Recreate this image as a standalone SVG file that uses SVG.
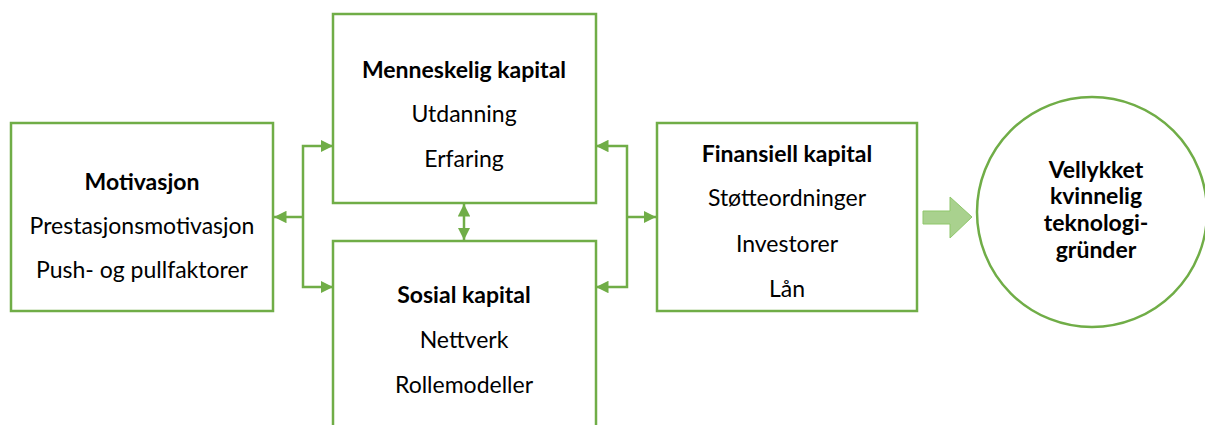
<svg xmlns="http://www.w3.org/2000/svg" width="1205" height="425" viewBox="0 0 1205 425">
<style>
.box{fill:#fff;stroke:#70ad47;stroke-width:2.5}
.t{font-family:Lato,"Open Sans",sans-serif;font-size:23px;fill:#000;text-anchor:middle}
.b{font-weight:bold}
.c{fill:none;stroke:#70ad47;stroke-width:2.5}
</style>
<defs>
<marker id="ah" viewBox="0 0 10 10" refX="10" refY="5" markerWidth="5" markerHeight="5" orient="auto-start-reverse" markerUnits="strokeWidth">
<path d="M0,0 L10,5 L0,10 z" fill="#70ad47"/>
</marker>
</defs>
<rect width="1205" height="425" fill="#fff"/>
<g id="motivasjon">
<rect class="box" x="11" y="123" width="262" height="188"/>
<text class="t b" x="142" y="190">Motivasjon</text>
<text class="t" x="142" y="234">Prestasjonsmotivasjon</text>
<text class="t" x="142" y="278">Push- og pullfaktorer</text>
</g>
<g id="menneskelig">
<rect class="box" x="333" y="14" width="263" height="189"/>
<text class="t b" x="464" y="78">Menneskelig kapital</text>
<text class="t" x="464" y="122">Utdanning</text>
<text class="t" x="464" y="167">Erfaring</text>
</g>
<g id="sosial">
<rect class="box" x="333" y="241" width="263" height="200"/>
<text class="t b" x="464" y="303">Sosial kapital</text>
<text class="t" x="464" y="348">Nettverk</text>
<text class="t" x="464" y="393">Rollemodeller</text>
</g>
<g id="finansiell">
<rect class="box" x="657" y="123" width="260" height="188"/>
<text class="t b" x="787" y="162">Finansiell kapital</text>
<text class="t" x="787" y="206">Støtteordninger</text>
<text class="t" x="787" y="252">Investorer</text>
<text class="t" x="787" y="297">Lån</text>
</g>
<g id="resultat">
<circle cx="1092" cy="212" r="115" fill="#fff" stroke="#70ad47" stroke-width="2.5"/>
<text class="t b" x="1096" y="178">Vellykket</text>
<text class="t b" x="1096" y="204">kvinnelig</text>
<text class="t b" x="1096" y="231">teknologi-</text>
<text class="t b" x="1096" y="258">gründer</text>
</g>
<g id="connectors">
<path class="c" d="M333,146 H303 V287 H333" marker-start="url(#ah)" marker-end="url(#ah)"/>
<path class="c" d="M303,217 H274" marker-end="url(#ah)"/>
<path class="c" d="M596,146 H627 V287 H596" marker-start="url(#ah)" marker-end="url(#ah)"/>
<path class="c" d="M627,217 H656" marker-end="url(#ah)"/>
<path class="c" d="M464,204 V240" marker-start="url(#ah)" marker-end="url(#ah)"/>
<path d="M923,211 H950 V197 L972,217 L950,238 V224 H923 Z" fill="#a9d18e" stroke="#8fc76b" stroke-width="1"/>
</g>
</svg>
